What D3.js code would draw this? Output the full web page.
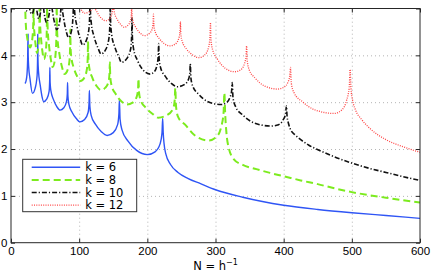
<!DOCTYPE html>
<html>
<head>
<meta charset="utf-8">
<script src="https://cdn.jsdelivr.net/npm/d3@7"></script>
<style>
  body { margin: 0; background: #fff; }
  svg { display: block; font-family: "DejaVu Sans", sans-serif; }
  .grid line { stroke: #b4b4b4; stroke-dasharray: 1,3; }
  .grid .domain { display: none; }
  .axis text { font-size: 11.5px; fill: #000; }
  .axis line { stroke: #262626; }
  .axis .domain { display: none; }
</style>
</head>
<body>
<div id="chart"></div>
<script>
// tick values
const xTicks = [0, 100, 200, 300, 400, 500, 600];
const yTicks = [0, 1, 2, 3, 4, 5];

// legend labels
const labels = ['k = 6', 'k = 8', 'k = 10', 'k = 12'];

// [N, value]
const k6 = [
  [20.5,3.40],[22,3.45],[23.5,3.6],[24.4,3.9],[25,4.45],
  [25.2,4.01],[25.9,3.76],[27.8,3.51],[31.5,3.19],[35.3,3.29],[38.3,3.57],[39.0,3.95],[39.2,4.45],
  [39.5,3.95],[40.3,3.66],[42.8,3.37],[45.5,3.12],[48,3.01],[52.5,3.07],[55.9,3.23],[56.7,3.45],[57,3.74],
  [57.4,3.42],[58.6,3.24],[62.2,3.06],[67.4,2.90],[72,2.83],[77.5,2.88],[81.4,3.01],[82.6,3.18],[83,3.42],
  [83.5,3.13],[84.9,2.96],[89.4,2.79],[95.8,2.65],[101,2.58],[108,2.63],[113.1,2.78],[114.5,2.98],[115,3.25],
  [115.7,2.91],[117.6,2.72],[123.8,2.53],[132.6,2.37],[141,2.29],[150,2.35],[156.4,2.52],[158.3,2.75],[159,3.05],
  [160,2.64],[162.8,2.41],[171.7,2.17],[184.4,1.97],[200,1.88],[211.3,1.94],[218.7,2.11],[221.5,2.34],[222.5,2.65],
  [223.3,2.35],[224.5,2.12],[227,1.9],[234,1.67],[245,1.5],[260,1.37],[278,1.26],[300,1.13],[340,0.97],
  [400,0.8],[450,0.71],[500,0.64],[550,0.58],[600,0.52]
];
const k8 = [
  [20.5,5.4],[21,4.95],[22,4.6],[23.5,4.4],[25.5,4.25],[28,4.17],[30.5,4.28],[32.4,4.57],[32.85,4.97],[33,5.5],
  [33.1,4.99],[33.5,4.70],[34.8,4.41],[36.6,4.17],[38,4.05],[40,4.17],[41.5,4.52],[41.9,4.98],[42,5.6],
  [42.2,5.01],[42.7,4.68],[44.2,4.34],[46.4,4.05],[48.5,3.92],[50.8,4.05],[52.3,4.42],[52.8,4.93],[53,5.6],
  [53.2,4.95],[53.8,4.58],[55.8,4.21],[58.6,3.90],[61,3.75],[64,3.87],[66.2,4.22],[66.8,4.68],[67,5.3],
  [67.3,4.70],[68.2,4.37],[71,4.03],[75,3.74],[78.5,3.6],[82.8,3.68],[85.8,3.89],[86.7,4.17],[87,4.55],
  [87.4,4.17],[88.6,3.95],[92.2,3.73],[97.4,3.54],[102,3.45],[107.5,3.52],[111.4,3.71],[112.6,3.96],[113,4.3],
  [113.5,3.94],[114.9,3.73],[119.4,3.52],[125.8,3.34],[132,3.26],[138.5,3.31],[143.1,3.44],[144.5,3.61],[145,3.85],
  [145.6,3.54],[147.5,3.36],[153.4,3.18],[161.8,3.02],[170,2.95],[178.5,2.99],[184.5,3.12],[186.4,3.28],[187,3.5],
  [187.8,3.21],[190.2,3.04],[197.8,2.88],[208.6,2.74],[216,2.67],[228.5,2.72],[237.8,2.86],[240.2,3.05],[241,3.3],
  [242.1,2.91],[245.3,2.68],[255.4,2.52],[269.8,2.29],[290,2.18],[301.5,2.26],[308.7,2.49],[311.9,2.79],[313,3.2],
  [314.2,2.75],[316,2.35],[319,2.05],[327,1.78],[340,1.66],[360,1.57],[380,1.49],[400,1.42],[425,1.33],
  [450,1.25],[475,1.16],[500,1.08],[550,0.96],[600,0.86]
];
const k10 = [
  [20.5,5.1],[22.5,4.95],[24.5,5.05],[25.6,5.4],[26,5.8],
  [26.2,5.3],[27,5.05],[28.5,4.93],[30.5,4.88],[32.5,4.93],[34,5.1],[34.7,5.4],[35,5.9],
  [35.2,5.51],[35.6,5.28],[37,5.06],[39,4.87],[40.5,4.78],[42.8,4.88],[44.4,5.15],[44.8,5.51],[45,6.0],
  [45.2,5.55],[45.8,5.29],[47.6,5.03],[49.8,4.8],[52,4.7],[55,4.80],[57.2,5.09],[57.8,5.48],[58,6.0],
  [58.2,5.49],[59,5.20],[61.2,4.91],[64.4,4.67],[67,4.55],[70.5,4.66],[73,4.96],[73.8,5.36],[74,5.9],
  [74.3,5.37],[75.1,5.06],[77.6,4.76],[81.2,4.50],[84.5,4.38],[88.2,4.49],[90.9,4.81],[91.7,5.23],[92,5.8],
  [92.4,5.25],[93.4,4.93],[96.8,4.62],[101.6,4.35],[105,4.22],[110.5,4.32],[114.6,4.60],[115.6,4.99],[116,5.5],
  [116.4,4.99],[117.8,4.69],[121.9,4.40],[127.8,4.15],[132,4.03],[138.8,4.12],[143.8,4.38],[145.2,4.73],[145.6,5.2],
  [146.1,4.73],[147.5,4.46],[152,4.19],[158.4,3.96],[162,3.85],[169.8,3.93],[175.6,4.14],[177,4.42],[177.5,4.8],
  [178.1,4.38],[179.8,4.14],[185.3,3.90],[193.1,3.70],[204,3.6],[210.3,3.65],[214.3,3.80],[216,3.99],[216.6,4.25],
  [217.3,3.93],[219.4,3.74],[225.9,3.56],[235.2,3.40],[244,3.33],[253.5,3.37],[260.2,3.48],[262.3,3.62],[263,3.82],
  [263.9,3.52],[266.7,3.34],[275.3,3.17],[287.6,3.02],[308,2.95],[316.3,2.99],[320.8,3.09],[323.6,3.23],[324.5,3.42],
  [325.7,3.09],[329.3,2.91],[340.4,2.72],[356.3,2.56],[381,2.49],[392.5,2.52],[399.2,2.62],[402.8,2.75],[404,2.92],
  [405,2.7],[407,2.55],[410,2.42],[417,2.3],[425,2.2],[437,2.08],[449.5,1.99],[475,1.83],[502,1.69],
  [525,1.59],[550,1.5],[575,1.41],[600,1.33]
];
const k12 = [
  [95,5.5],[99,5.15],[103,4.98],[108,4.9],[114.5,4.93],[119.5,5.0],[120.6,5.2],[121,5.4],
  [121.4,5.17],[122.7,5.04],[126.8,4.91],[132.6,4.79],[139,4.74],[144.5,4.78],[148.3,4.91],[149.6,5.08],[150,5.3],
  [150.4,5.06],[151.6,4.92],[155.4,4.78],[160.8,4.66],[166,4.6],[171.5,4.64],[175.4,4.75],[176.6,4.9],[177,5.1],
  [177.5,4.86],[178.9,4.73],[183.4,4.59],[189.8,4.47],[196,4.42],[202.5,4.46],[207.1,4.56],[208.5,4.70],[209,4.88],
  [209.6,4.64],[211.4,4.51],[216.9,4.37],[224.8,4.25],[233,4.2],[240.8,4.24],[246.1,4.36],[247.9,4.51],[248.5,4.72],
  [249.2,4.45],[251.1,4.30],[257.3,4.14],[266.1,4.01],[276,3.95],[284.3,4.01],[290,4.18],[291.9,4.40],[292.6,4.7],
  [293.4,4.33],[295.8,4.12],[303.2,3.91],[313.8,3.73],[328,3.65],[336.8,3.69],[342.4,3.82],[344.8,3.98],[345.6,4.2],
  [346.6,3.88],[349.5,3.69],[358.5,3.51],[371.4,3.35],[391,3.28],[400.5,3.32],[406.1,3.42],[409,3.56],[410,3.74],
  [411.3,3.40],[415.3,3.20],[427.5,3.01],[445,2.84],[474,2.76],[485.8,2.84],[492.3,3.04],[496.2,3.32],[497.5,3.70],
  [498.7,3.3],[501,3.05],[505,2.85],[515,2.62],[528,2.42],[550,2.2],[575,2.05],[600,1.93]
];

const series = [k6, k8, k10, k12];
const styles = [
  { color: '#2f55f5', width: 1.4, dash: null },
  { color: '#7ceb1e', width: 2, dash: '7,4' },
  { color: '#111111', width: 1.6, dash: '5,2,1.2,2' },
  { color: '#ff4545', width: 1.3, dash: '1,1.3' }
];

const W = 436, H = 273;
const margin = { top: 8.5, right: 16, bottom: 30.3, left: 11 };
const width = W - margin.left - margin.right;
const height = H - margin.top - margin.bottom;

const svg = d3.select('#chart').append('svg')
  .attr('width', W)
  .attr('height', H);

const chart = svg.append('g')
  .attr('transform', `translate(${margin.left}, ${margin.top})`);

const x = d3.scaleLinear().domain([0, 600]).range([0, width]);
const y = d3.scaleLinear().domain([0, 5]).range([height, 0]);

// dotted grid
chart.append('g')
  .attr('class', 'grid')
  .attr('transform', `translate(0, ${height})`)
  .call(d3.axisBottom(x).tickValues(xTicks.slice(1, -1)).tickSize(-height).tickFormat(''));
chart.append('g')
  .attr('class', 'grid')
  .call(d3.axisLeft(y).tickValues(yTicks.slice(1, -1)).tickSize(-width).tickFormat(''));

// lines
chart.append('clipPath').attr('id', 'plot')
  .append('rect').attr('width', width).attr('height', height);

const line = d3.line()
  .x(d => x(d[0]))
  .y(d => y(d[1]))
  .curve(d3.curveMonotoneX);

chart.append('g')
  .attr('clip-path', 'url(#plot)')
  .selectAll('path')
  .data(series)
  .enter()
  .append('path')
  .attr('d', line)
  .attr('fill', 'none')
  .attr('stroke', (d, i) => styles[i].color)
  .attr('stroke-width', (d, i) => styles[i].width)
  .attr('stroke-dasharray', (d, i) => styles[i].dash)
  .attr('stroke-linejoin', 'round');

// axes, ticks pointing inwards
chart.append('g')
  .attr('class', 'axis')
  .attr('transform', `translate(0, ${height})`)
  .call(d3.axisBottom(x).tickValues(xTicks).tickFormat(d3.format('d'))
    .tickSizeInner(-4).tickSizeOuter(0).tickPadding(4));
chart.append('g')
  .attr('class', 'axis')
  .call(d3.axisTop(x).tickValues(xTicks).tickSizeInner(-4).tickSizeOuter(0).tickFormat(''));
chart.append('g')
  .attr('class', 'axis')
  .call(d3.axisLeft(y).tickValues(yTicks).tickFormat(d3.format('d'))
    .tickSizeInner(-4).tickSizeOuter(0).tickPadding(3.5));
chart.append('g')
  .attr('class', 'axis')
  .attr('transform', `translate(${width}, 0)`)
  .call(d3.axisRight(y).tickValues(yTicks).tickSizeInner(-4).tickSizeOuter(0).tickFormat(''));

chart.append('rect')
  .attr('width', width)
  .attr('height', height)
  .attr('fill', 'none')
  .attr('stroke', '#262626')
  .attr('stroke-width', 1);

// x label
const xl = svg.append('text')
  .attr('x', margin.left + width / 2)
  .attr('y', 269.5)
  .attr('text-anchor', 'middle')
  .style('font-size', '11.5px');
xl.append('tspan').text('N = h');
xl.append('tspan').attr('dy', -4.5).style('font-size', '8px').text('\u22121');

// legend
const legend = svg.append('g').attr('transform', 'translate(22.7, 159.3)');
legend.append('rect')
  .attr('width', 114)
  .attr('height', 52.4)
  .attr('fill', '#fff')
  .attr('stroke', '#333')
  .attr('stroke-width', 1);

const rows = legend.selectAll('.row')
  .data(labels)
  .enter()
  .append('g')
  .attr('class', 'row')
  .attr('transform', (d, i) => `translate(0, ${8 + i * 12.6})`);

rows.append('line')
  .attr('x1', 9).attr('x2', 57.5)
  .attr('stroke', (d, i) => styles[i].color)
  .attr('stroke-width', (d, i) => styles[i].width)
  .attr('stroke-dasharray', (d, i) => styles[i].dash);

rows.append('text')
  .attr('x', 62.5)
  .attr('dy', '0.36em')
  .style('font-size', '11.5px')
  .text(d => d);
</script>
</body>
</html>
